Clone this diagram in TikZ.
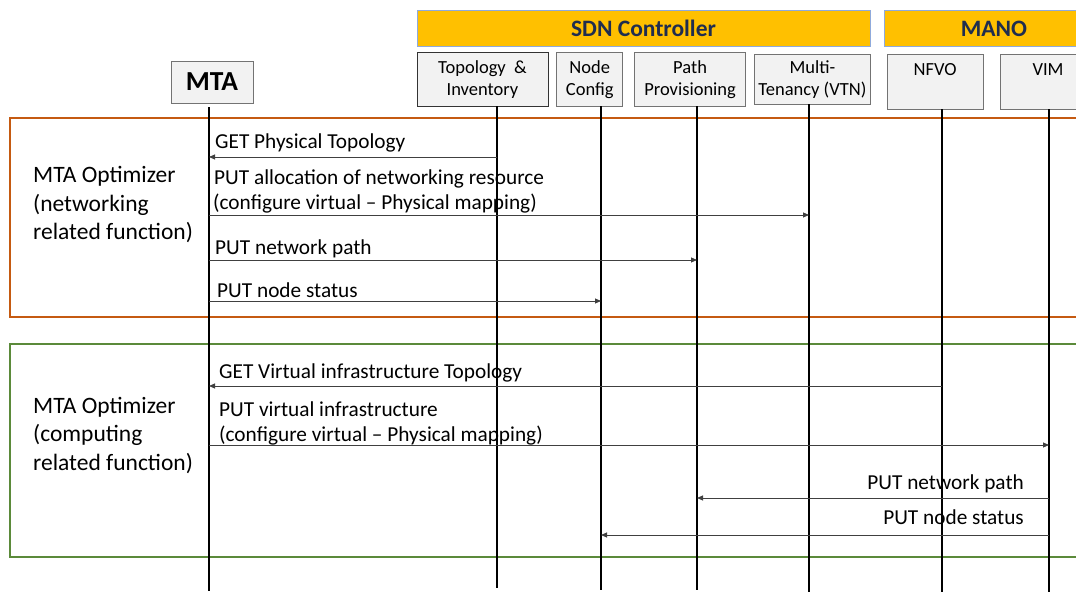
\documentclass[tikz,border=0pt]{standalone}
\usepackage{fontspec}
\setmainfont{Carlito}
\usetikzlibrary{positioning, arrows.meta}
\definecolor{gold}{HTML}{FFC000}
\definecolor{barline}{HTML}{8FAADC}
\definecolor{navy}{HTML}{1F2D4F}
\definecolor{boxfill}{HTML}{F2F2F2}
\definecolor{rust}{HTML}{C55A11}
\definecolor{leaf}{HTML}{5B8A3A}
\tikzset{
  header/.style={ % coloured group bar
    rectangle, draw=barline, fill=gold, thick,
    text=navy, font=\fontsize{23.5}{28}\selectfont\bfseries,
    minimum height=36pt, inner sep=0pt,
  },
  entity/.style={ % grey box of one component
    rectangle, draw=black!55, fill=boxfill, thick,
    align=center, font=\fontsize{18.5}{22}\selectfont,
    minimum height=54pt, inner sep=0pt, text depth=2pt,
  },
  lifeline/.style={line width=2pt},
  frame/.style={line width=2.2pt},
  msg/.style={ % message between two lifelines
    -{Triangle[length=6pt,width=5pt]},
    line width=0.9pt, draw=black!75,
  },
  msglabel/.style={anchor=base west, inner sep=0pt, yshift=-1.5pt, font=\fontsize{21.3}{25}\selectfont},
  phase/.style={anchor=base west, inner sep=0pt, align=left, font=\fontsize{23.5}{28.5}\selectfont},
}

\begin{document}
\begin{tikzpicture}[x=1pt, y=-1pt]
	\useasboundingbox (0,0) rectangle (1076,593);
	% frames of the two phases
	\draw[frame, rust] (10,118) rectangle (1100,317);
	\draw[frame, leaf] (10,344) rectangle (1100,557);
	% group bars
	\node[header, minimum width=453pt] (sdn) at (643.5,28) {SDN Controller};
	\node[header, minimum width=220pt] (mano) at (994,28.5) {MANO};
	% components
	\node[entity, minimum width=82pt, minimum height=42pt, text depth=0pt, font=\fontsize{27.5}{30}\selectfont\bfseries] (mta) at (212,82) {MTA};
	\node[entity, minimum width=131pt, draw=black!80] (topo) at (482.5,79) {Topology~~\&\\Inventory};
	\node[entity, minimum width=66pt, right=8pt of topo] (cfg) {Node\\Config};
	\node[entity, minimum width=111pt, right=11pt of cfg] (path) {Path\\Provisioning};
	\node[entity, minimum width=116pt, minimum height=50pt, right=8pt of path] (vtn) {Multi-\\Tenancy (VTN)};
	\node[entity, minimum width=96pt, minimum height=55pt, right=16pt of vtn, yshift=-2.5pt] (nfvo) {NFVO\\\phantom{N}};
	\node[entity, minimum width=96pt, minimum height=55pt, right=16pt of nfvo] (vim) {VIM\\\phantom{N}};
	% lifelines
	\coordinate (mtaBot) at (209,591);
	\coordinate (topoBot) at (497,588);
	\coordinate (cfgBot) at (601,590);
	\coordinate (pathBot) at (697,590);
	\coordinate (vtnBot) at (809,592);
	\coordinate (nfvoBot) at (942,592);
	\coordinate (vimBot) at (1049,592);
	\draw[lifeline] (mtaBot |- mta.south) ++(0,4) -- (mtaBot);
	\foreach \n in {topo, cfg, path, vtn, nfvo, vim}
		\draw[lifeline] (\n Bot |- \n.south) -- (\n Bot);
	% networking related function
	\node[phase] (opt1) at (33,240) {MTA Optimizer\\(networking\\related function)};
	\node[msglabel] (l1) at (215,147) {GET Physical Topology};
	\draw[msg] (topoBot |- 0,157) -- (mtaBot |- 0,157);
	\node[msglabel] (l2) at (214,183) {PUT allocation of networking resource};
	\node[msglabel] (l2b) at (213,208) {(configure virtual -- Physical mapping)};
	\draw[msg] (mtaBot |- 0,215) -- (vtnBot |- 0,215);
	\node[msglabel] (l3) at (215,253) {PUT network path};
	\draw[msg] (mtaBot |- 0,260) -- (pathBot |- 0,260);
	\node[msglabel] (l4) at (217,296) {PUT node status};
	\draw[msg] (mtaBot |- 0,301) -- (cfgBot |- 0,301);
	% computing related function
	\node[phase] (opt2) at (33,470) {MTA Optimizer\\(computing\\related function)};
	\node[msglabel] (l5) at (219,377) {GET Virtual infrastructure Topology};
	\draw[msg] (nfvoBot |- 0,386) -- (mtaBot |- 0,386);
	\node[msglabel] (l6) at (219,415) {PUT virtual infrastructure};
	\node[msglabel] (l6b) at (219,440) {(configure virtual -- Physical mapping)};
	\draw[msg] (mtaBot |- 0,445) -- (vimBot |- 0,445);
	\node[msglabel, anchor=base east] (l7) at (1024,488) {PUT network path};
	\draw[msg] (vimBot |- 0,498) -- (pathBot |- 0,498);
	\node[msglabel, anchor=base east] (l8) at (1024,523) {PUT node status};
	\draw[msg] (vimBot |- 0,535) -- (cfgBot |- 0,535);
\end{tikzpicture}
\end{document}
